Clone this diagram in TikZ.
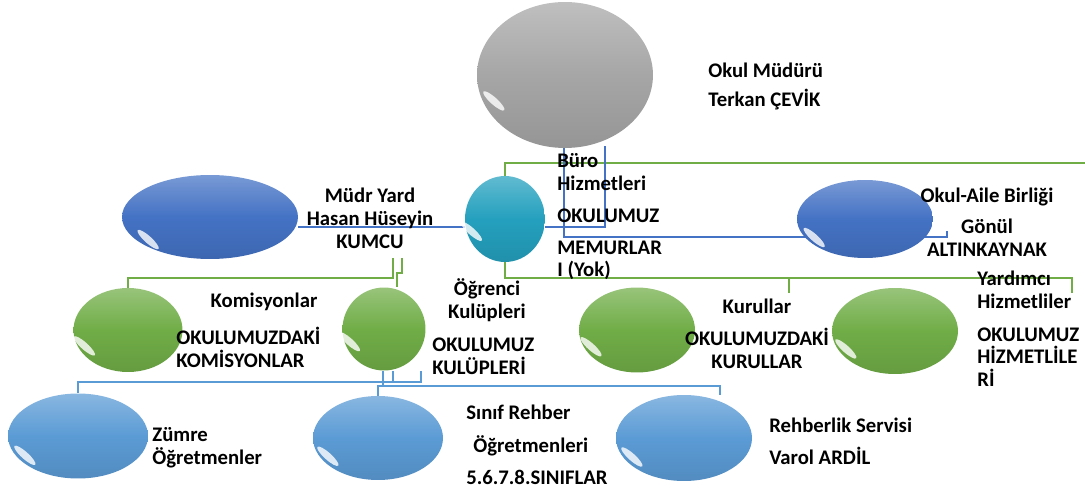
\documentclass[tikz,border=0pt]{standalone}
\usepackage{fontspec}
\setmainfont{Carlito}
\usetikzlibrary{shapes.geometric,calc,backgrounds}
\definecolor{gri}{RGB}{166,166,166}
\definecolor{turkuaz}{RGB}{36,160,190}
\definecolor{mavi}{RGB}{68,114,196}
\definecolor{yesil}{RGB}{112,173,71}
\definecolor{acikmavi}{RGB}{91,155,213}
\tikzset{
 balon/.style={ellipse, inner sep=0pt, top color=#1!72!white, bottom color=#1!90!black, middle color=#1},
 ycizgi/.style={draw=yesil, line width=1.2pt},
 kcizgi/.style={draw=mavi, line width=1pt},
 acizgi/.style={draw=acikmavi, line width=1.2pt},
 yazi/.style={font=\bfseries\fontsize{11.8}{13}\selectfont, inner sep=0pt}
}
% white shine on the lower left of a bubble
\newcommand{\parilti}[1]{\fill[white, opacity=.8, shift={($(#1.center)!.88!(#1.200)$)}, rotate=-42] (0,0) ellipse (2.8mm and .7mm);}
\begin{document}
\begin{tikzpicture}[x=0.02cm, y=-0.02cm]
 \useasboundingbox (0,0) rectangle (1085,493);
 % bubbles
 \node[balon=gri, minimum width=3.52cm, minimum height=2.92cm] (mudur) at (565,75) {};
 \node[balon=mavi, minimum width=3.52cm, minimum height=1.68cm] (yard) at (210,217) {};
 \node[balon=turkuaz, minimum width=1.6cm, minimum height=1.72cm] (merkez) at (505,219) {};
 \node[balon=mavi, minimum width=2.72cm, minimum height=1.56cm] (aile) at (865,219) {};
 \node[balon=yesil, minimum width=2.18cm, minimum height=1.68cm] (komisyon) at (128,330) {};
 \node[balon=yesil, minimum width=1.66cm, minimum height=1.66cm] (kulup) at (384,329) {};
 \node[balon=yesil, minimum width=2.32cm, minimum height=1.7cm] (kurul) at (637,330) {};
 \node[balon=yesil, minimum width=2.52cm, minimum height=1.72cm] (hizmetli) at (895,331) {};
 \node[balon=acikmavi, minimum width=2.8cm, minimum height=1.7cm] (zumre) at (78,436) {};
 \node[balon=acikmavi, minimum width=2.6cm, minimum height=1.68cm] (sinif) at (378,438) {};
 \node[balon=acikmavi, minimum width=2.72cm, minimum height=1.72cm] (rehber) at (684,438) {};
 \foreach \b in {mudur,yard,merkez,aile,komisyon,kulup,kurul,hizmetli,zumre,sinif,rehber}
  \parilti{\b};

 % free ends of the lines
 \coordinate (h1) at (0,227);
 \coordinate (sagust) at (1085,163);
 \coordinate (yucu) at (1072,293);
 \coordinate (kucu) at (789,293);
 \coordinate (kumcu) at (393,258);
 \coordinate (kumcu2) at (402,258);
 \coordinate (gonul) at (947,231);

 \begin{scope}[on background layer]
  % green lines
  \draw[ycizgi] (merkez.north) |- (sagust);
  \draw[ycizgi] (merkez.south) -- ++(0,16) -| (yucu);
  \draw[ycizgi] (kucu) -- ++(0,-15);
  \draw[ycizgi] (kumcu) -- ++(0,20) -| (komisyon.north);
  \draw[ycizgi] (kumcu2) -- ++(0,15) -| ($(kulup.north)+(13,0)$);
  % blue lines
  \draw[kcizgi] (yard.east |- h1) -- (merkez.west |- h1);
  \draw[kcizgi] ($(mudur.south)+(-1,-2)$) -- ++(0,91) -| (gonul);
  \draw[kcizgi] ($(mudur.south)+(40,-2)$) |- (merkez.east |- h1);
  \draw[acizgi] ($(kulup.south)+(9,0)$) -- ++(0,11) -| (zumre.north);
  \draw[acizgi] ($(kulup.south)+(37,0)$) -- ++(0,11) -- ++(-28,0);
  \draw[acizgi] ($(kulup.south)+(-1,0)$) -- ++(0,15) -| ($(rehber.north)+(36,0)$);
  \draw[acizgi] ($(kulup.south)+(-1,15)$) -| (sinif.north);
 \end{scope}

 % texts
 \node[yazi, anchor=west, align=left] (mudurad) at (708,86) {Okul Müdürü\\[3.5pt]Terkan ÇEVİK};
 \node[yazi, align=center] (yardad) at (370,218) {Müdr Yard\\Hasan Hüseyin\\KUMCU};
 \node[yazi, anchor=west, align=left] (buro) at (557,217) {Büro\\Hizmetleri\\[5pt]OKULUMUZ\\[5pt]MEMURLAR\\I (Yok)};
 \node[yazi, align=center] (ailead) at (987,222) {Okul-Aile Birliği\\[5pt]Gönül\\ALTINKAYNAK};
 \node[yazi, anchor=west, align=left] (yardimci) at (977,329) {Yardımcı\\Hizmetliler\\[5.5pt]OKULUMUZ\\HİZMETLİLE\\Rİ};
 \node[yazi] (komad) at (264,302) {Komisyonlar};
 \node[yazi, anchor=west, align=left] (komyazi) at (176,347) {OKULUMUZDAKİ\\KOMİSYONLAR};
 \node[yazi, align=center] (kulad) at (487,300) {Öğrenci\\Kulüpleri};
 \node[yazi, anchor=west, align=left] (kulyazi) at (432,356) {OKULUMUZ\\KULÜPLERİ};
 \node[yazi, align=center] (kurulad) at (757,334) {Kurullar\\[5pt]OKULUMUZDAKİ\\KURULLAR};
 \node[yazi, anchor=west, align=left] (zumread) at (152,448) {Zümre\\Öğretmenler};
 \node[yazi, anchor=west, align=left] (sinifad) at (466,445) {Sınıf Rehber\\[5.5pt]\hspace{4pt}Öğretmenleri\\[5.5pt]5.6.7.8.SINIFLAR};
 \node[yazi, anchor=west, align=left] (rehberad) at (769,441) {Rehberlik Servisi\\[5pt]Varol ARDİL};
\end{tikzpicture}
\end{document}
